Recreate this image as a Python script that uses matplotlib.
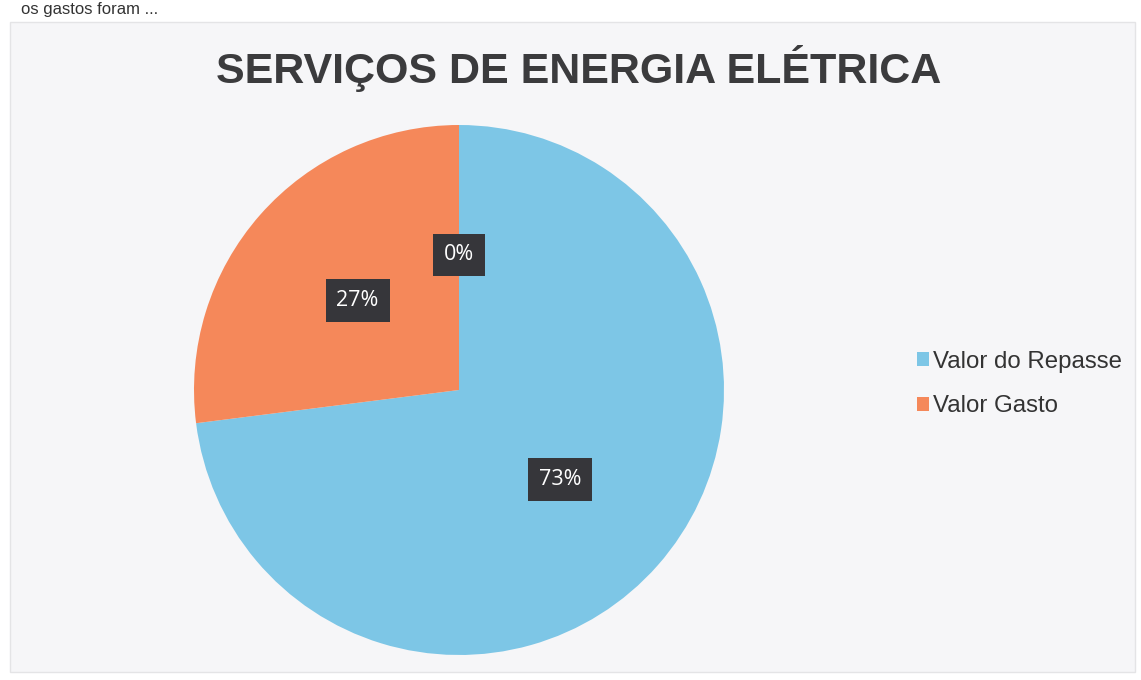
import matplotlib
matplotlib.use("Agg")
import matplotlib.pyplot as plt
from matplotlib.patches import Rectangle

# ---- data ----
title = "SERVIÇOS DE ENERGIA ELÉTRICA"
categories = ["Valor do Repasse", "Valor Gasto", ""]
values = [73, 27, 0]
colors = ["#7dc6e6", "#f5885a", "#9a9a9a"]
header_text = "os gastos foram ..."

W, H = 1141, 680
fig = plt.figure(figsize=(W / 100, H / 100), dpi=100)
fig.patch.set_facecolor("white")

# chart panel
fig.patches.append(Rectangle((10 / W, 8 / H), 1125 / W, 650 / H, transform=fig.transFigure,
                             facecolor="#f6f6f8", edgecolor="#e4e4e6", lw=1, zorder=-5))

# document text above the chart
fig.text(0.018, 1 - 2 / H, header_text, fontsize=12, color="#333333", family="Liberation Sans",
         ha="left", va="top")

fig.text(579 / W, 1 - 68 / H, title, fontsize=31, fontweight="bold", color="#3b3b3d",
         family="Liberation Sans", ha="center", va="center")

cx, cy, r = 459, 390, 265
ax = fig.add_axes([(cx - r) / W, (H - cy - r) / H, 2 * r / W, 2 * r / H])

wedges, texts, autotexts = ax.pie(
    values, colors=colors, startangle=90, counterclock=False, radius=1,
    autopct=lambda p: f"{p:.0f}%", pctdistance=0.51,
    wedgeprops=dict(linewidth=0),
    textprops=dict(color="white", fontsize=15.5, family="Open Sans"),
)
ax.set_xlim(-1, 1)
ax.set_ylim(-1, 1)
ax.set_aspect("equal")
ax.axis("off")
for t in autotexts:
    t.set_bbox(dict(boxstyle="square,pad=0.5", facecolor="#36363a", edgecolor="none"))

leg = fig.legend(wedges[:2], categories[:2], loc="center left",
                 bbox_to_anchor=(895 / W, 1 - 384 / H), frameon=False,
                 prop=dict(family="Liberation Sans", size=17.3),
                 handlelength=0.5, handleheight=0.5, handletextpad=0.2,
                 labelspacing=0.95, labelcolor="#333333")

fig.savefig("out.png", dpi=100)
